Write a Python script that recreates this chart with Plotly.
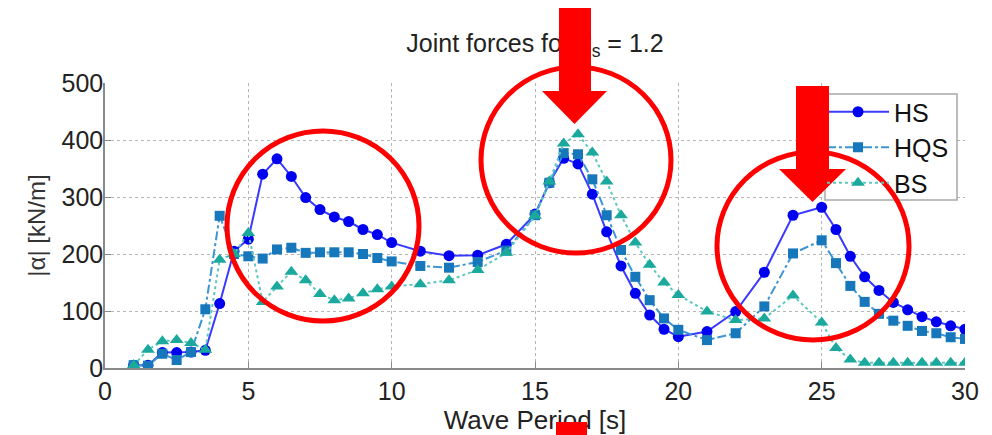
import plotly.graph_objects as go

# ---------------- data ----------------
period = [1, 1.5, 2, 2.5, 3, 3.5, 4, 4.5, 5, 5.5, 6, 6.5, 7, 7.5, 8, 8.5, 9, 9.5, 10,
          11, 12, 13, 14,
          15, 15.5, 16, 16.5, 17, 17.5, 18, 18.5, 19, 19.5, 20,
          21, 22, 23, 24,
          25, 25.5, 26, 26.5, 27, 27.5, 28, 28.5, 29, 29.5, 30]
hs = [5, 5, 27, 27, 28, 31, 113, 205, 226, 340, 367, 336, 299, 278, 265, 257, 243, 234, 220,
      205, 197, 198, 217,
      270, 325, 368, 358, 305, 239, 179, 131, 93, 68, 55,
      64, 99, 168, 268,
      282, 243, 196, 160, 136, 115, 102, 90, 81, 74, 68]
hqs = [5, 4, 25, 14, 28, 103, 267, 200, 196, 192, 208, 211, 202, 203, 203, 203, 200, 193, 187,
       179, 176, 186, 206,
       268, 325, 377, 375, 331, 268, 207, 160, 119, 87, 67,
       49, 61, 108, 201,
       224, 184, 144, 116, 95, 83, 74, 65, 61, 54, 51]
bs = [5, 32, 47, 49, 44, 32, 190, 200, 237, 116, 143, 169, 154, 130, 119, 122, 131, 138, 143,
      147, 154, 172, 202,
      267, 327, 394, 410, 378, 327, 268, 220, 181, 150, 128,
      99, 84, 87, 127,
      80, 35, 15, 9, 9, 9, 9, 9, 9, 9, 9]
series_names = ["HS", "HQS", "BS"]
x_ticks = [0, 5, 10, 15, 20, 25, 30]
y_ticks = [0, 100, 200, 300, 400, 500]

# ---------------- layout geometry (page pixels) ----------------
OFF = 8                      # default body margin of the html page
W, H = 992 - OFF, 435 - OFF  # figure size so that it fills the window
L, R, T, B = 105, 965, 83, 368   # plot area in page pixels


def px(x):
    return (x - L) / (R - L)


def py(y):
    return (B - y) / (B - T)


FONT = "Arial, Liberation Sans, Helvetica, sans-serif"
RED = "#ff0000"

fig = go.Figure()
fig.add_trace(go.Scatter(
    x=period, y=hs, name=series_names[0], mode="lines+markers",
    line=dict(color="#3a3aff", width=2),
    marker=dict(symbol="circle", size=11, color="#0000f0")))
fig.add_trace(go.Scatter(
    x=period, y=hqs, name=series_names[1], mode="lines+markers",
    line=dict(color="#3d95d4", width=2, dash="dashdot"),
    marker=dict(symbol="square", size=10, color="#1777bb")))
fig.add_trace(go.Scatter(
    x=period, y=bs, name=series_names[2], mode="lines+markers",
    line=dict(color="#5cc9c0", width=2, dash="dot"),
    marker=dict(symbol="triangle-up", size=12, color="#1aa99c")))

shapes = []
# legend frame (drawn as shape so red overlays can sit above it)
shapes.append(dict(type="rect", xref="paper", yref="paper", layer="above",
                   x0=px(825), x1=px(957), y0=py(200), y1=py(94),
                   fillcolor="white", line=dict(color="#a8a8a8", width=1.5)))
# red circles
for cx, cy, rx, ry in [(323, 226, 96, 95), (576, 160, 95, 93), (813, 246, 96, 94)]:
    shapes.append(dict(type="circle", xref="paper", yref="paper", layer="above",
                       x0=px(cx - rx), x1=px(cx + rx), y0=py(cy + ry), y1=py(cy - ry),
                       line=dict(color=RED, width=5)))
# arrow heads
for l, r, top, tx, ty in [(542, 607, 91, 574.5, 124), (779, 846, 169, 812.5, 202)]:
    path = "M {} {} L {} {} L {} {} Z".format(px(l), py(top), px(r), py(top), px(tx), py(ty))
    shapes.append(dict(type="path", xref="paper", yref="paper", layer="above",
                       path=path, fillcolor=RED, line=dict(color=RED, width=0)))

annotations = []
# red rectangles drawn above texts (arrow shafts and the small block under the x title)
for x0, x1, y0, y1 in [(559, 591, 8, 92), (796, 829, 86, 170), (556, 587, 422, 435)]:
    annotations.append(dict(
        xref="paper", yref="paper", x=px((x0 + x1) / 2), y=py((y0 + y1) / 2),
        xanchor="center", yanchor="middle", text=" ", showarrow=False,
        width=x1 - x0, height=y1 - y0, bgcolor=RED, borderpad=0, borderwidth=0,
        font=dict(size=1)))

fig.update_layout(
    template="none",
    width=W, height=H,
    margin=dict(l=L - OFF, r=W - (R - OFF), t=T - OFF, b=H - (B - OFF), pad=0),
    paper_bgcolor="white", plot_bgcolor="white",
    font=dict(family=FONT, size=25, color="#222222"),
    title=dict(text="Joint forces for α<sub>s</sub> = 1.2", x=px(535), xanchor="center",
               xref="paper",
               y=1 - (43 - OFF) / H, yanchor="middle", yref="container",
               font=dict(family=FONT, size=25, color="#222222")),
    showlegend=True,
    legend=dict(x=px(822), y=py(89), xanchor="left", yanchor="top",
                bgcolor="rgba(0,0,0,0)", borderwidth=0,
                font=dict(family=FONT, size=25, color="#111111"),
                itemwidth=62, tracegroupgap=0),
    xaxis=dict(range=[0, 30], tickvals=x_ticks, ticktext=[str(v) for v in x_ticks],
               showgrid=True, gridcolor="#b5b5b5", griddash="dot", gridwidth=1,
               showline=True, linecolor="#8a8a8a", linewidth=1.5, mirror=False,
               ticks="inside", ticklen=6, tickcolor="#8a8a8a", zeroline=False,
               automargin=False, tickfont=dict(size=25, color="#222222"),
               title=dict(text="Wave Period [s]", standoff=0,
                          font=dict(size=26, color="#222222"))),
    yaxis=dict(range=[0, 500], tickvals=y_ticks, ticktext=[str(v) for v in y_ticks],
               showgrid=True, gridcolor="#b5b5b5", griddash="dot", gridwidth=1,
               showline=True, linecolor="#8a8a8a", linewidth=1.5, mirror=False,
               ticks="inside", ticklen=6, tickcolor="#8a8a8a", zeroline=False,
               ticklabelstandoff=-5,
               automargin=False, tickfont=dict(size=25, color="#222222"),
               title=dict(text="|α| [kN/m]", standoff=9,
                          font=dict(size=24, color="#333333"))),
    shapes=shapes,
    annotations=annotations,
)

fig.write_html("out.html")
